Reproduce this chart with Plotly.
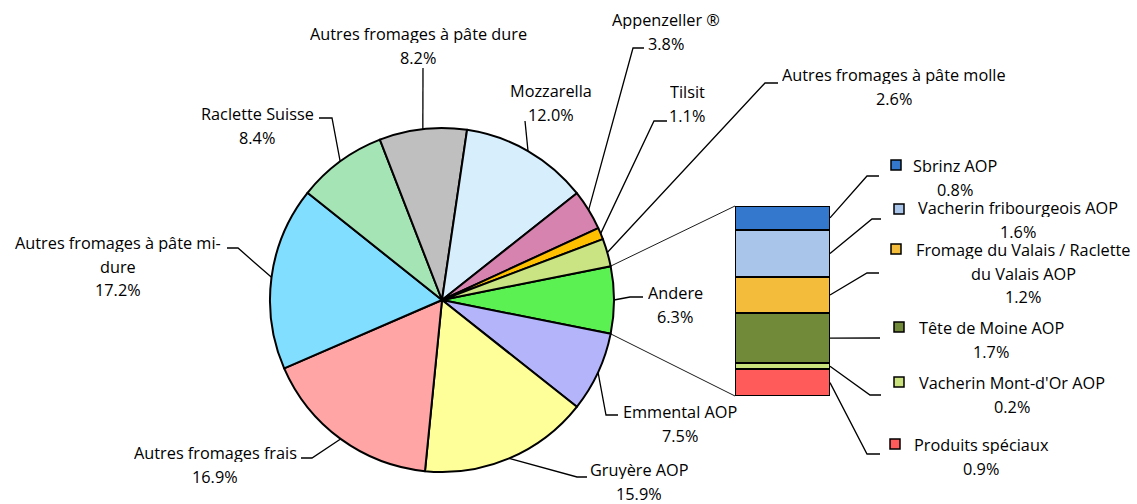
import math
import plotly.graph_objects as go

# ---------------- data ----------------
pie_labels = ["Andere", "Emmental AOP", "Gruyère AOP", "Autres fromages frais",
              "Autres fromages à pâte mi-dure", "Raclette Suisse",
              "Autres fromages à pâte dure", "Mozzarella", "Appenzeller ®",
              "Tilsit", "Autres fromages à pâte molle"]
pie_values = [6.3, 7.5, 15.9, 16.9, 17.2, 8.4, 8.2, 12.0, 3.8, 1.1, 2.6]
pie_colors = ["#5BF152", "#B4B4FB", "#FFFF99", "#FFA5A5", "#81DEFF", "#A5E4B5",
              "#BFBFBF", "#D7EEFD", "#D783AF", "#FFC000", "#CBE483"]

# bar of "Andere", bottom -> top
bar_labels = ["Produits spéciaux", "Vacherin Mont-d'Or AOP", "Tête de Moine AOP",
              "Fromage du Valais / Raclette du Valais AOP",
              "Vacherin fribourgeois AOP", "Sbrinz AOP"]
bar_values = [0.9, 0.2, 1.7, 1.2, 1.6, 0.8]
bar_colors = ["#FF5B5B", "#C9E27D", "#718A3A", "#F3BC3A", "#A9C6EA", "#3378CD"]

wrap = {
    "Autres fromages à pâte mi-dure": ["Autres fromages à pâte mi-", "dure"],
    "Fromage du Valais / Raclette du Valais AOP": ["Fromage du Valais / Raclette", "du Valais AOP"],
}

# ---------------- layout (pixels) ----------------
W, H = 1137, 504
CX, CY, R = 442, 300, 172
BX0, BX1, BY_TOP, BY_BOT = 735, 830, 206, 396
LINE = 23.5
FONT = dict(family="Open Sans, sans-serif", size=16.3, color="#000000")

pie_text_pos = {
    "Andere": (675, 293), "Emmental AOP": (680, 412), "Gruyère AOP": (639, 470),
    "Autres fromages frais": (215, 453), "Autres fromages à pâte mi-dure": (118, 243),
    "Raclette Suisse": (257, 114), "Autres fromages à pâte dure": (418, 34),
    "Mozzarella": (551, 91), "Appenzeller ®": (666, 20), "Tilsit": (687, 92),
    "Autres fromages à pâte molle": (894, 75),
}
pie_leader_via = {
    "Andere": [(630, 297), (643, 297)], "Emmental AOP": [(606, 415), (618, 415)],
    "Gruyère AOP": [(577, 477), (587, 477)], "Autres fromages frais": [(312, 458), (301, 458)],
    "Autres fromages à pâte mi-dure": [(238, 248), (227, 248)],
    "Raclette Suisse": [(332, 118), (319, 118)], "Autres fromages à pâte dure": [(423, 68)],
    "Mozzarella": [(525, 121)], "Appenzeller ®": [(633, 48), (644, 48)],
    "Tilsit": [(654, 121), (667, 121)], "Autres fromages à pâte molle": [(765, 83), (778, 83)],
}
bar_square_pos = {
    "Sbrinz AOP": (896, 165), "Vacherin fribourgeois AOP": (899, 209),
    "Fromage du Valais / Raclette du Valais AOP": (896, 249), "Tête de Moine AOP": (899, 327),
    "Vacherin Mont-d'Or AOP": (899, 382), "Produits spéciaux": (895, 444),
}
bar_text_pos = {
    "Sbrinz AOP": (955, 166), "Vacherin fribourgeois AOP": (1018, 208),
    "Fromage du Valais / Raclette du Valais AOP": (1023, 250), "Tête de Moine AOP": (991, 328),
    "Vacherin Mont-d'Or AOP": (1012, 383), "Produits spéciaux": (981, 445),
}
bar_leader_via = {
    "Sbrinz AOP": [(867, 176), (879, 176)], "Vacherin fribourgeois AOP": [(872, 219), (881, 219)],
    "Fromage du Valais / Raclette du Valais AOP": [(867, 273), (879, 273)],
    "Tête de Moine AOP": [(880, 338)], "Vacherin Mont-d'Or AOP": [(870, 395), (881, 395)],
    "Produits spéciaux": [(867, 454), (880, 454)],
}

# ---------------- geometry helpers ----------------
total = sum(pie_values)
deg_per = 360.0 / total
rotation = 90 - pie_values[0] * deg_per / 2


def edge_point(theta):
    t = math.radians(theta)
    return CX + R * math.sin(t), CY - R * math.cos(t)


bar_total = sum(bar_values)


def bar_y(v):
    return BY_BOT - v / bar_total * (BY_BOT - BY_TOP)


fig = go.Figure()

# pie
fig.add_trace(go.Pie(
    labels=pie_labels, values=pie_values, sort=False, direction="clockwise",
    rotation=rotation, textinfo="none", hoverinfo="label+percent",
    marker=dict(colors=pie_colors, line=dict(color="#000000", width=2)),
    domain=dict(x=[(CX - R) / W, (CX + R) / W], y=[(H - CY - R) / H, (H - CY + R) / H]),
    showlegend=False,
))

# stacked bar
for lab, val, col in zip(bar_labels, bar_values, bar_colors):
    fig.add_trace(go.Bar(
        x=[0], y=[val], width=[1], name=lab, xaxis="x2", yaxis="y2",
        marker=dict(color=col, line=dict(color="#000000", width=2)),
        showlegend=False, hoverinfo="name+y",
    ))

# legend-key squares for bar labels
fig.add_trace(go.Scatter(
    x=[bar_square_pos[l][0] for l in bar_labels],
    y=[bar_square_pos[l][1] for l in bar_labels],
    mode="markers", xaxis="x", yaxis="y", showlegend=False, hoverinfo="skip",
    marker=dict(symbol="square", size=10, color=bar_colors,
                line=dict(color="#000000", width=1.5)),
))

shapes = []
annotations = []


def add_path(points, width=1.3):
    d = "M " + " L ".join(f"{x:.2f},{y:.2f}" for x, y in points)
    shapes.append(dict(type="path", path=d, xref="x", yref="y",
                       line=dict(color="#000000", width=width), layer="above"))


def add_text(lines, cx, cy):
    for i, t in enumerate(lines):
        annotations.append(dict(text=t, x=cx, y=cy + i * LINE, xref="x", yref="y",
                                xanchor="center", yanchor="middle", showarrow=False,
                                height=18, borderpad=0, font=FONT))


# pie labels + leader lines
acc = rotation
for lab, val in zip(pie_labels, pie_values):
    span = val * deg_per
    mid = acc + span / 2
    acc += span
    add_path([edge_point(mid)] + pie_leader_via[lab])
    cx, cy = pie_text_pos[lab]
    add_text(wrap.get(lab, [lab]) + [f"{val:.1f}%"], cx, cy)

# connector lines pie -> bar
top_pt = edge_point(rotation)
bot_pt = edge_point(rotation + pie_values[0] * deg_per)
add_path([top_pt, (BX0, BY_TOP)], width=0.9)
add_path([bot_pt, (BX0, BY_BOT)], width=0.9)

# bar labels + leader lines
cum = 0
for lab, val in zip(bar_labels, bar_values):
    mid = cum + val / 2
    cum += val
    add_path([(BX1, bar_y(mid))] + bar_leader_via[lab])
    cx, cy = bar_text_pos[lab]
    add_text(wrap.get(lab, [lab]) + [f"{val:.1f}%"], cx, cy)

fig.update_layout(
    width=W, height=H, margin=dict(l=0, r=0, t=0, b=0),
    paper_bgcolor="#FFFFFF", plot_bgcolor="rgba(0,0,0,0)",
    barmode="stack", bargap=0,
    xaxis=dict(range=[0, W], domain=[0, 1], visible=False, fixedrange=True),
    yaxis=dict(range=[H, 0], domain=[0, 1], visible=False, fixedrange=True),
    xaxis2=dict(range=[-0.5, 0.5], domain=[BX0 / W, BX1 / W], anchor="y2",
                visible=False, fixedrange=True),
    yaxis2=dict(range=[0, bar_total], domain=[(H - BY_BOT) / H, (H - BY_TOP) / H],
                anchor="x2", visible=False, fixedrange=True),
    shapes=shapes, annotations=annotations,
)

fig.write_html("out.html", config={"displayModeBar": False},
               post_script="document.body.style.margin='0px';document.body.style.overflow='hidden';")
